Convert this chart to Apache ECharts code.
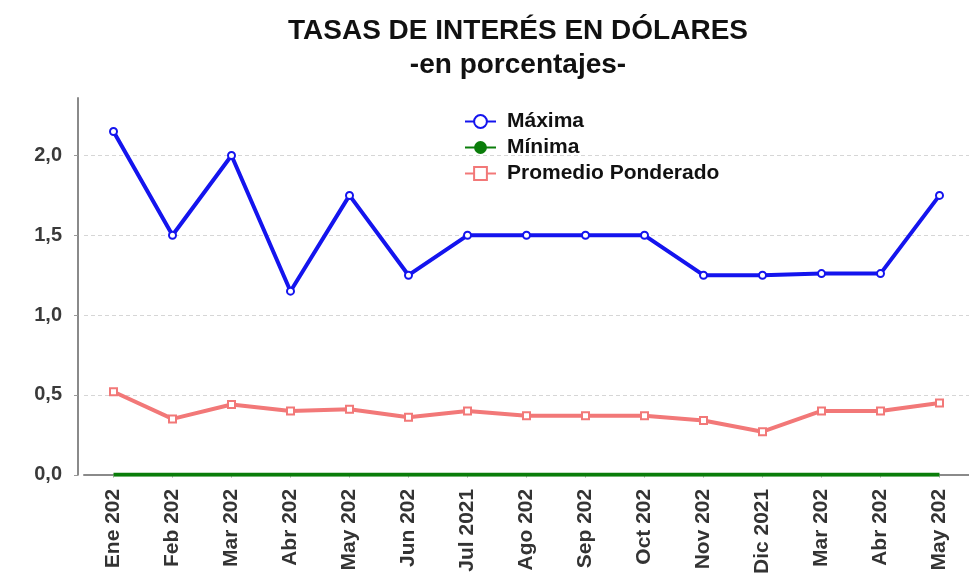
<!DOCTYPE html>
<html>
<head>
<meta charset="utf-8">
<script src="https://cdn.jsdelivr.net/npm/echarts@6/dist/echarts.min.js"></script>
<style>
  html, body { margin: 0; padding: 0; background: #ffffff; }
  #chart { width: 969px; height: 577px; }
</style>
</head>
<body>
<div id="chart"></div>
<script>
// Month labels along the x axis
var meses = ['Ene 202', 'Feb 202', 'Mar 202', 'Abr 202', 'May 202', 'Jun 202', 'Jul 2021',
             'Ago 202', 'Sep 202', 'Oct 202', 'Nov 202', 'Dic 2021', 'Mar 202', 'Abr 202', 'May 202'];

// Interest rates in dollars, percent
var maxima   = [2.15, 1.50, 2.00, 1.15, 1.75, 1.25, 1.50, 1.50, 1.50, 1.50, 1.25, 1.25, 1.26, 1.26, 1.75];
var minima   = [0.00, 0.00, 0.00, 0.00, 0.00, 0.00, 0.00, 0.00, 0.00, 0.00, 0.00, 0.00, 0.00, 0.00, 0.00];
var promedio = [0.52, 0.35, 0.44, 0.40, 0.41, 0.36, 0.40, 0.37, 0.37, 0.37, 0.34, 0.27, 0.40, 0.40, 0.45];

var FONT = '"Liberation Sans", Arial, sans-serif';

var chart = echarts.init(document.getElementById('chart'), null, { renderer: 'canvas' });

chart.setOption({
  animation: false,
  backgroundColor: '#ffffff',
  title: [
    {
      text: 'TASAS DE INTERÉS EN DÓLARES',
      left: 513, top: 12, textAlign: 'center',
      textStyle: { fontFamily: FONT, fontSize: 28, fontWeight: 'bold', color: '#111111' }
    },
    {
      text: '-en porcentajes-',
      left: 513, top: 46, textAlign: 'center',
      textStyle: { fontFamily: FONT, fontSize: 28, fontWeight: 'bold', color: '#111111' }
    }
  ],
  legend: {
    orient: 'vertical',
    left: 459, top: 106,
    itemWidth: 31, itemHeight: 16, itemGap: 5,
    textStyle: { fontFamily: FONT, fontSize: 21, fontWeight: 'bold', color: '#111111', padding: [0, 0, 0, 6] },
    data: ['Máxima', 'Mínima', 'Promedio Ponderado']
  },
  grid: { left: 84, right: -3, top: 98, bottom: 101, containLabel: false },
  xAxis: {
    type: 'category',
    data: meses,
    boundaryGap: true,
    axisLine: { show: true, lineStyle: { color: '#8a8a8a', width: 2 } },
    axisTick: { show: true, alignWithLabel: true, length: 3, lineStyle: { color: '#bbbbbb' } },
    axisLabel: {
      rotate: 90, margin: 14, interval: 0,
      fontFamily: FONT, fontSize: 21, fontWeight: 'bold', color: '#333333'
    },
    splitLine: { show: false }
  },
  yAxis: {
    type: 'value',
    min: 0, max: 2.36, interval: 0.5,
    offset: 6,
    axisLine: { show: true, lineStyle: { color: '#8a8a8a', width: 2 } },
    axisTick: { show: true, length: 4, lineStyle: { color: '#999999' } },
    axisLabel: {
      margin: 16, showMaxLabel: false,
      fontFamily: FONT, fontSize: 20, fontWeight: 'bold', color: '#3a3a3a',
      formatter: function (v) { return v.toFixed(1).replace('.', ','); }
    },
    splitLine: { show: true, showMaxLine: false, lineStyle: { color: '#d6d6d6', type: [4, 3], width: 1 } }
  },
  series: [
    {
      name: 'Mínima', type: 'line', data: minima,
      symbol: 'circle', symbolSize: 4, showSymbol: false,
      itemStyle: { color: '#0a7d0a' },
      lineStyle: { color: '#0a7d0a', width: 4 },
      z: 3
    },
    {
      name: 'Promedio Ponderado', type: 'line', data: promedio,
      symbol: 'emptyRect', symbolSize: 7,
      itemStyle: { color: '#f27878', borderWidth: 1.5 },
      lineStyle: { color: '#f27878', width: 4 },
      z: 4
    },
    {
      name: 'Máxima', type: 'line', data: maxima,
      symbol: 'emptyCircle', symbolSize: 7,
      itemStyle: { color: '#1414ee', borderWidth: 1.5 },
      lineStyle: { color: '#1414ee', width: 4 },
      z: 5
    }
  ]
});
</script>
</body>
</html>
